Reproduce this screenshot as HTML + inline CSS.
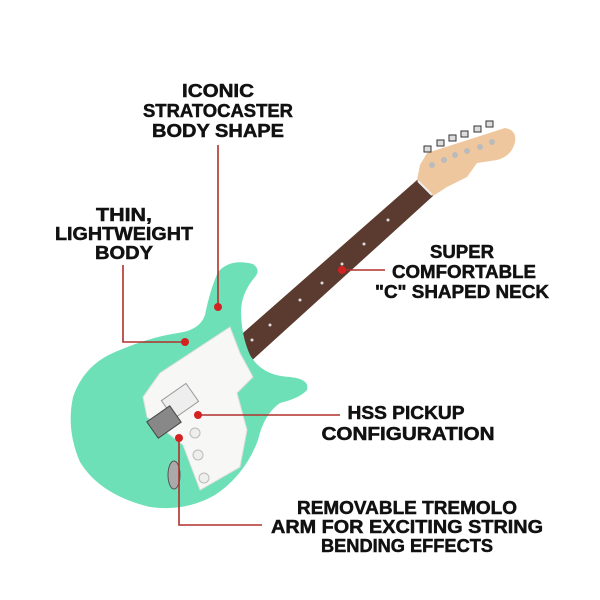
<!DOCTYPE html>
<html><head><meta charset="utf-8"><style>
html,body{margin:0;padding:0;background:#fff;}
svg{display:block}
text{font-family:"Liberation Sans",sans-serif;font-weight:bold;fill:#111;text-anchor:middle;font-size:18px;stroke:#111;stroke-width:0.5}
</style></head><body>
<svg width="600" height="600" viewBox="0 0 600 600">
<!-- headstock -->
<path d="M417,180 L420,165 L427,153 L505,128 Q517,130 515,142 Q512,156 497,160 L477,163 L467,177 L447,187 L433,196 Z" fill="#efc79e"/>
<g fill="#ddd" stroke="#333" stroke-width="1">
<rect x="424" y="146" width="7" height="6"/><rect x="437" y="140" width="7" height="6"/><rect x="449" y="135" width="7" height="6"/><rect x="461" y="131" width="7" height="6"/><rect x="474" y="126" width="7" height="6"/><rect x="486" y="121" width="7" height="6"/>
</g>
<g fill="#bbb"><circle cx="432" cy="165" r="3"/><circle cx="444" cy="160" r="3"/><circle cx="455" cy="155" r="3"/><circle cx="467" cy="151" r="3"/><circle cx="480" cy="147" r="3"/><circle cx="492" cy="142" r="3"/></g>
<!-- neck -->
<path d="M417,180 L433,196 L248,364 L227,347 Z" fill="#5b3b2f"/>
<line x1="418" y1="181" x2="432" y2="195" stroke="#eee" stroke-width="2"/>
<g fill="#ddd"><circle cx="388" cy="220" r="1.5"/><circle cx="364" cy="244" r="1.5"/><circle cx="342" cy="264" r="1.5"/><circle cx="322" cy="283" r="1.5"/><circle cx="300" cy="300" r="1.5"/><circle cx="270" cy="325" r="1.5"/><circle cx="252" cy="340" r="1.5"/></g>
<!-- body -->
<path d="M253,264 Q261,270 255,277 Q242,292 241,310 Q241,335 250,355 Q262,376 290,377 Q310,379 307,390 Q300,398 280,403 Q264,414 258,440 Q245,475 215,495 Q185,512 150,507 Q100,495 80,462 Q66,430 73,397 Q84,365 115,352 Q150,337 178,333 Q200,330 205,315 Q210,290 218,272 Q230,258 253,264 Z" fill="#6ee0b8"/>
<!-- pickguard -->
<path d="M230,327 L240,353 L253,377 L237,393 L247,430 L240,467 L200,490 L183,445 L147,417 L143,397 L160,373 Z" fill="#f7f7f5" stroke="#ddd"/>
<rect x="165" y="390" width="30" height="22" transform="rotate(-35 180 401)" fill="#eee" stroke="#999"/>
<rect x="150" y="412" width="28" height="20" transform="rotate(-35 164 422)" fill="#888" stroke="#444"/>
<ellipse cx="174" cy="475" rx="6" ry="14" fill="#aaa" stroke="#555"/>
<g fill="#eee" stroke="#bbb"><circle cx="195" cy="433" r="5"/><circle cx="198" cy="455" r="5"/><circle cx="204" cy="478" r="5"/></g>
<!-- connectors -->
<g stroke="#b0302c" stroke-width="1.6" fill="none">
<line x1="218" y1="145" x2="218" y2="307"/>
<polyline points="123,265 123,342 185,342"/>
<line x1="342" y1="270" x2="385" y2="270"/>
<line x1="198" y1="415" x2="340" y2="415"/>
<polyline points="179,438 179,525 262,525"/>
</g>
<g fill="#d42222"><circle cx="218" cy="307" r="4"/><circle cx="185" cy="342" r="4"/><circle cx="342" cy="270" r="4"/><circle cx="198" cy="415" r="4"/><circle cx="179" cy="438" r="4"/></g>
<!-- labels -->
<text x="218" y="97" textLength="72" lengthAdjust="spacingAndGlyphs">ICONIC</text>
<text x="218" y="117" textLength="150" lengthAdjust="spacingAndGlyphs">STRATOCASTER</text>
<text x="218" y="137" textLength="132" lengthAdjust="spacingAndGlyphs">BODY SHAPE</text>
<text x="124" y="221" textLength="56" lengthAdjust="spacingAndGlyphs">THIN,</text>
<text x="124" y="240" textLength="138" lengthAdjust="spacingAndGlyphs">LIGHTWEIGHT</text>
<text x="124" y="259" textLength="58" lengthAdjust="spacingAndGlyphs">BODY</text>
<text x="462" y="258" textLength="64" lengthAdjust="spacingAndGlyphs">SUPER</text>
<text x="464" y="278" textLength="144" lengthAdjust="spacingAndGlyphs">COMFORTABLE</text>
<text x="462" y="298" textLength="174" lengthAdjust="spacingAndGlyphs">"C" SHAPED NECK</text>
<text x="406" y="419" textLength="117" lengthAdjust="spacingAndGlyphs">HSS PICKUP</text>
<text x="408" y="440" textLength="173" lengthAdjust="spacingAndGlyphs">CONFIGURATION</text>
<text x="407" y="514" textLength="220" lengthAdjust="spacingAndGlyphs">REMOVABLE TREMOLO</text>
<text x="407" y="533" textLength="272" lengthAdjust="spacingAndGlyphs">ARM FOR EXCITING STRING</text>
<text x="407" y="552" textLength="172" lengthAdjust="spacingAndGlyphs">BENDING EFFECTS</text>
</svg>
</body></html>
